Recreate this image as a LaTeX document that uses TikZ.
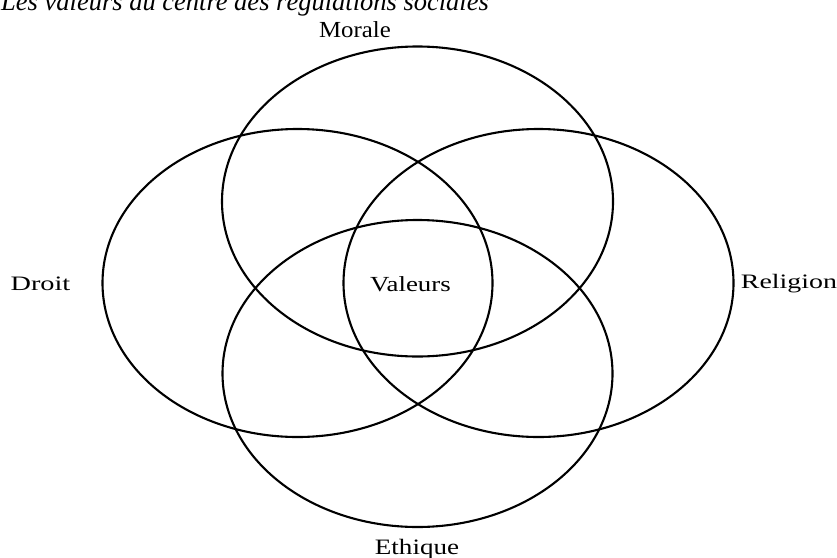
\documentclass[tikz,border=0pt]{standalone}
\usepackage{fontspec}
\setmainfont{Liberation Serif}
\begin{document}
\begin{tikzpicture}[x=1pt,y=-1pt,
  ring/.style={draw=black,line width=2.1pt},
  lbl/.style={inner sep=0pt,anchor=base}]
\useasboundingbox (0,0) rectangle (837,557);
\fill[white] (0,0) rectangle (837,557);
\node[lbl,anchor=base west,font=\fontsize{26.5}{26.5}\selectfont\itshape] (title) at (1,10.5) {Les valeurs au centre des régulations sociales};
\draw[ring] (417.5,201.5) ellipse [x radius=195.5pt, y radius=155pt];
\draw[ring] (297.5,283) ellipse [x radius=195pt, y radius=154pt];
\draw[ring] (538.5,283) ellipse [x radius=195pt, y radius=154pt];
\draw[ring] (417.5,373.5) ellipse [x radius=195pt, y radius=153.5pt];
\node[lbl,xscale=1.08,font=\fontsize{23}{23}\selectfont] (morale) at (355,37) {Morale};
\node[lbl,xscale=1.38,font=\fontsize{20.5}{20.5}\selectfont] (droit) at (40.5,290.5) {Droit};
\node[lbl,xscale=1.36,font=\fontsize{20.5}{20.5}\selectfont] (religion) at (789,288.5) {Religion};
\node[lbl,xscale=1.25,font=\fontsize{21.5}{21.5}\selectfont] (valeurs) at (410.5,291) {Valeurs};
\node[lbl,xscale=1.23,font=\fontsize{22}{22}\selectfont] (ethique) at (417,554) {Ethique};
\end{tikzpicture}
\end{document}
